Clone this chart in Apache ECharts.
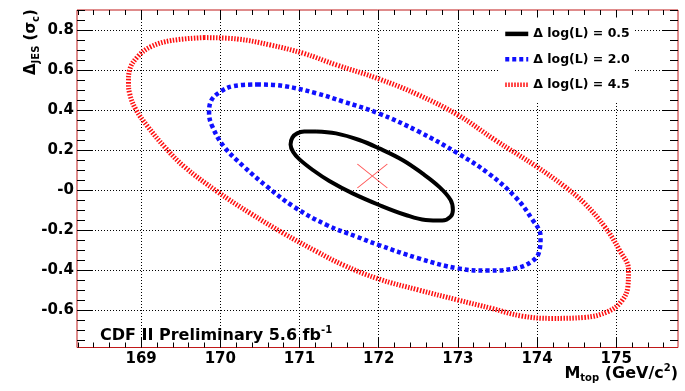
<!DOCTYPE html>
<html><head><meta charset="utf-8">
<script src="https://cdn.jsdelivr.net/npm/echarts@6/dist/echarts.min.js"></script>
<style>html,body{margin:0;padding:0;background:#fff}#c{width:685px;height:391px}</style>
</head><body><div id="c"></div>
<script>
const FONT = '"DejaVu Sans", sans-serif';
const xMin = 168.19, xMax = 175.78;
const yMin = -0.7875, yMax = 0.9;
const xMajorTicks = [169, 170, 171, 172, 173, 174, 175];
const xTickLabels = ['169', '170', '171', '172', '173', '174', '175'];
const yMajorTicks = [-0.6, -0.4, -0.2, 0, 0.2, 0.4, 0.6, 0.8];
const yTickLabels = ['-0.6', '-0.4', '-0.2', '-0', '0.2', '0.4', '0.6', '0.8'];
const xMinorStep = 0.2, yMinorStep = 0.05;
const legendNames = ['\u0394 log(L) = 0.5', '\u0394 log(L) = 2.0', '\u0394 log(L) = 4.5'];

const contour05 = [
  [171.21,0.293],[171.461,0.283],[171.755,0.25],[172.006,0.208],[172.30,0.15],[172.551,0.083],
  [172.761,0.017],[172.908,-0.05],[172.937,-0.10],[172.908,-0.133],[172.803,-0.153],[172.593,-0.15],
  [172.342,-0.125],[172.006,-0.075],[171.671,-0.017],[171.377,0.045],[171.168,0.10],[171.0,0.153],
  [170.92,0.19],[170.887,0.228],[170.91,0.262],[170.97,0.283],[171.06,0.292],[171.21,0.293]
];
const contour20 = [
  [170.464,0.528],[170.80,0.52],[171.218,0.483],[171.552,0.442],[172.0,0.383],[172.505,0.292],
  [173.0,0.183],[173.386,0.083],[173.72,-0.033],[173.93,-0.142],[174.044,-0.233],[174.027,-0.308],
  [173.93,-0.358],[173.72,-0.392],[173.386,-0.403],[173.0,-0.392],[172.505,-0.342],[172.0,-0.275],
  [171.72,-0.233],[171.343,-0.175],[170.925,-0.083],[170.59,0.017],[170.297,0.117],[170.046,0.217],
  [169.90,0.317],[169.858,0.383],[169.879,0.442],[170.004,0.492],[170.172,0.52],[170.464,0.528]
];
const contour45 = [
  [169.795,0.762],[170.213,0.755],[170.632,0.725],[171.05,0.683],[171.469,0.625],[172.0,0.556],
  [172.505,0.475],[173.0,0.375],[173.47,0.25],[173.994,0.117],[174.35,0.017],[174.60,-0.067],
  [174.853,-0.183],[175.04,-0.30],[175.155,-0.40],[175.147,-0.483],[175.063,-0.558],[174.895,-0.608],
  [174.60,-0.637],[174.182,-0.642],[173.805,-0.63],[173.428,-0.592],[173.0,-0.55],[172.505,-0.50],
  [172.0,-0.445],[171.552,-0.375],[171.218,-0.308],[170.80,-0.217],[170.381,-0.117],[169.962,-0.008],
  [169.544,0.117],[169.293,0.217],[169.084,0.317],[168.937,0.40],[168.854,0.483],[168.84,0.542],
  [168.854,0.60],[168.958,0.667],[169.126,0.717],[169.377,0.747],[169.795,0.762]
];
const bestFit = [[171.92, 0.07]];

function minorList(min, max, step) {
  const out = [];
  for (let k = Math.ceil(min / step - 1e-9); k * step <= max + 1e-9; k++) out.push(+(k * step).toFixed(4));
  return out;
}
const xMinorTicks = minorList(xMin, xMax, xMinorStep);
const yMinorTicks = minorList(yMin, yMax, yMinorStep);

function labelFor(v, ticks, labels) {
  for (let i = 0; i < ticks.length; i++) if (Math.abs(ticks[i] - v) < 1e-6) return labels[i];
  return '';
}
const labelStyle = { fontFamily: FONT, fontWeight: 'bold', fontSize: 15, color: '#000' };

function xAxis(grid, pos, ticks, len, main) {
  return {
    type: 'value', gridIndex: grid, position: pos, min: xMin, max: xMax, splitNumber: 8,
    axisLine: { show: false, onZero: false },
    axisTick: { show: true, inside: true, length: len, customValues: ticks, lineStyle: { color: '#000', width: 1 } },
    axisLabel: main ? Object.assign({ show: true, margin: 4, customValues: xMajorTicks,
      formatter: v => labelFor(v, xMajorTicks, xTickLabels) }, labelStyle) : { show: false },
    splitLine: main ? { show: true, lineStyle: { color: '#000', width: 1, type: [1, 2] } } : { show: false }
  };
}
function yAxis(grid, pos, ticks, len, main) {
  return {
    type: 'value', gridIndex: grid, position: pos, min: yMin, max: yMax, splitNumber: 8,
    axisLine: { show: false, onZero: false },
    axisTick: { show: true, inside: true, length: len, customValues: ticks, lineStyle: { color: '#000', width: 1 } },
    axisLabel: main ? Object.assign({ show: true, margin: 3, customValues: yMajorTicks,
      formatter: v => labelFor(v, yMajorTicks, yTickLabels) }, labelStyle) : { show: false },
    splitLine: main ? { show: true, lineStyle: { color: '#000', width: 1, type: [1, 2] } } : { show: false }
  };
}

const gridBox = { left: 77, right: 7, top: 10, bottom: 43.5 };
const chart = echarts.init(document.getElementById('c'), null, { renderer: 'canvas' });
const ta = { fontFamily: FONT, fontWeight: 'bold', fontSize: 15, lineHeight: 20, fill: '#000' };
const ts = { fontFamily: FONT, fontWeight: 'bold', fontSize: 10, lineHeight: 8, fill: '#000' };
chart.setOption({
  animation: false,
  backgroundColor: '#fff',
  grid: [
    Object.assign({ show: true, borderColor: '#c01818', borderWidth: 1, backgroundColor: 'transparent' }, gridBox),
    Object.assign({ show: false }, gridBox)
  ],
  xAxis: [
    xAxis(0, 'bottom', xMajorTicks, 10, true),
    xAxis(0, 'top', xMajorTicks, 10, false),
    xAxis(1, 'bottom', xMinorTicks, 5, false),
    xAxis(1, 'top', xMinorTicks, 5, false)
  ],
  yAxis: [
    yAxis(0, 'left', yMajorTicks, 16, true),
    yAxis(0, 'right', yMajorTicks, 16, false),
    yAxis(1, 'left', yMinorTicks, 8, false),
    yAxis(1, 'right', yMinorTicks, 8, false)
  ],
  legend: {
    orient: 'vertical', left: 498, top: 17.4, itemWidth: 23, itemHeight: 14, itemGap: 12.4,
    padding: [10, 5, 10, 5], backgroundColor: '#fff', selectedMode: false,
    itemStyle: { opacity: 0 },
    lineStyle: { width: 4.5 },
    textStyle: { fontFamily: FONT, fontWeight: 'bold', fontSize: 12.5, color: '#000' },
    data: legendNames
  },
  series: [
    { type: 'line', name: legendNames[0], data: contour05, symbol: 'none', showSymbol: false, smooth: 0.4,
      xAxisIndex: 0, yAxisIndex: 0, z: 4, itemStyle: { color: '#000' },
      lineStyle: { color: '#000', width: 4, type: 'solid' } },
    { type: 'line', name: legendNames[1], data: contour20, symbol: 'none', showSymbol: false, smooth: 0.4,
      xAxisIndex: 0, yAxisIndex: 0, z: 3, itemStyle: { color: '#1010ff' },
      lineStyle: { color: '#1010ff', width: 4.5, type: [4, 3], cap: 'butt' } },
    { type: 'line', name: legendNames[2], data: contour45, symbol: 'none', showSymbol: false, smooth: 0.4,
      xAxisIndex: 0, yAxisIndex: 0, z: 3, itemStyle: { color: '#ff1010' },
      lineStyle: { color: '#ff1010', width: 5, type: [1.5, 1.5], cap: 'butt' } },
    { type: 'scatter', name: 'best fit', data: bestFit, xAxisIndex: 0, yAxisIndex: 0, z: 5, silent: true,
      symbol: 'path://M0,0L30,24M0,24L30,0', symbolSize: [30, 24],
      itemStyle: { color: 'rgba(0,0,0,0)', borderColor: '#ff2a2a', borderWidth: 1 } }
  ],
  graphic: [
    { type: 'text', x: 31, y: 75, rotation: Math.PI / 2, z: 10,
      style: { legacy: false, text: '{a|\u0394}{s|JES}{a| (\u03c3}{s|c}{a|)}', align: 'left', verticalAlign: 'middle',
        rich: { a: ta, s: Object.assign({}, ts, { verticalAlign: 'bottom' }) } } },
    { type: 'text', x: 678, y: 373.7, z: 10,
      style: { legacy: false, text: '{a|M}{s|top}{a| (GeV/c}{p|2}{a|)}', align: 'right', verticalAlign: 'middle',
        rich: { a: Object.assign({}, ta, { fontSize: 16 }), s: Object.assign({}, ts, { verticalAlign: 'bottom' }),
                p: Object.assign({}, ts, { verticalAlign: 'top' }) } } },
    { type: 'text', x: 100, y: 335.5, z: 10,
      style: { legacy: false, text: '{a|CDF II Preliminary 5.6 fb}{p|-1}', align: 'left', verticalAlign: 'middle',
        rich: { a: Object.assign({}, ta, { fontSize: 16 }), p: Object.assign({}, ts, { verticalAlign: 'top' }) } } }
  ]
});
</script></body></html>
